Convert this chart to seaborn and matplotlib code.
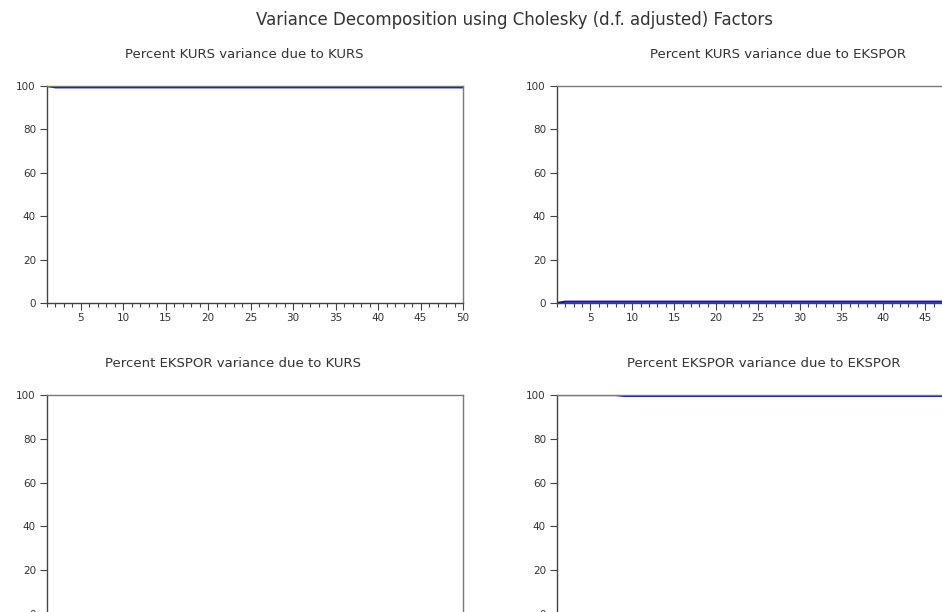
import matplotlib
matplotlib.use('Agg')
import matplotlib.pyplot as plt
from matplotlib.ticker import MultipleLocator
import seaborn as sns

# forecast periods
periods = list(range(1, 51))

# percent variance shares (flat lines)
kurs_due_kurs = [100.0] + [99.4] * 49
kurs_due_ekspor = [0.0] + [0.6] * 49
ekspor_due_kurs = [0.0] * 8 + [0.4] * 42
ekspor_due_ekspor = [100.0] * 8 + [99.6] * 42

panel_titles = ['Percent KURS variance due to KURS',
                'Percent KURS variance due to EKSPOR',
                'Percent EKSPOR variance due to KURS',
                'Percent EKSPOR variance due to EKSPOR']
main_title = 'Variance Decomposition using Cholesky (d.f. adjusted) Factors'

sns.set_style('white')
plt.rcParams['font.family'] = ['DejaVu Sans']

W, H = 942, 612
fig = plt.figure(figsize=(W / 100, H / 100), dpi=100)

# axes boxes in pixels: left, top, right, bottom (right column and bottom row run past the image edge)
boxes = [(47, 86, 463, 303), (557, 86, 967, 303),
         (47, 395, 463, 614), (557, 395, 967, 614)]
title_x = [0.474, 0.54, 0.447, 0.505]
series = [kurs_due_kurs, kurs_due_ekspor, ekspor_due_kurs, ekspor_due_ekspor]

frame_col = '#7a7a7a'
text_col = '#333333'

for i, (box, vals, ttl, tx) in enumerate(zip(boxes, series, panel_titles, title_x)):
    l, t, r, b = box
    ax = fig.add_axes([l / W, 1 - b / H, (r - l) / W, (b - t) / H])
    sns.lineplot(x=periods, y=vals, ax=ax, color='#1010c8', linewidth=1.6)
    ax.set_xlim(1, 50)
    ax.set_ylim(0, 100)
    ax.xaxis.set_minor_locator(MultipleLocator(1))
    ax.yaxis.set_major_locator(MultipleLocator(20))
    ax.set_xticks(range(5, 51, 5))
    ax.tick_params(axis='x', which='major', direction='out', length=5, width=0.8,
                   color='#444444', labelsize=7.5, labelcolor=text_col, bottom=True, pad=2)
    ax.tick_params(axis='x', which='minor', direction='out', length=3, width=0.8,
                   color='#444444', bottom=True)
    ax.tick_params(axis='y', which='major', direction='out', length=5, width=0.8,
                   color='#444444', labelsize=7.5, labelcolor=text_col, left=True, pad=3)
    if i >= 2:
        # bottom row: period labels fall below the image edge
        ax.tick_params(axis='x', labelbottom=False)
    for side in ['top', 'right']:
        ax.spines[side].set_color(frame_col)
        ax.spines[side].set_linewidth(1.0)
    for side in ['left', 'bottom']:
        ax.spines[side].set_color('#444444')
        ax.spines[side].set_linewidth(1.0)
    ax.set_xlabel('')
    ax.set_ylabel('')
    ax.set_title(ttl, x=tx, fontsize=9.5, color=text_col, pad=20)

fig.text(514 / W, 1 - 20 / H, main_title, ha='center', va='center',
         fontsize=12, color=text_col)

fig.savefig('out.png', dpi=100)
